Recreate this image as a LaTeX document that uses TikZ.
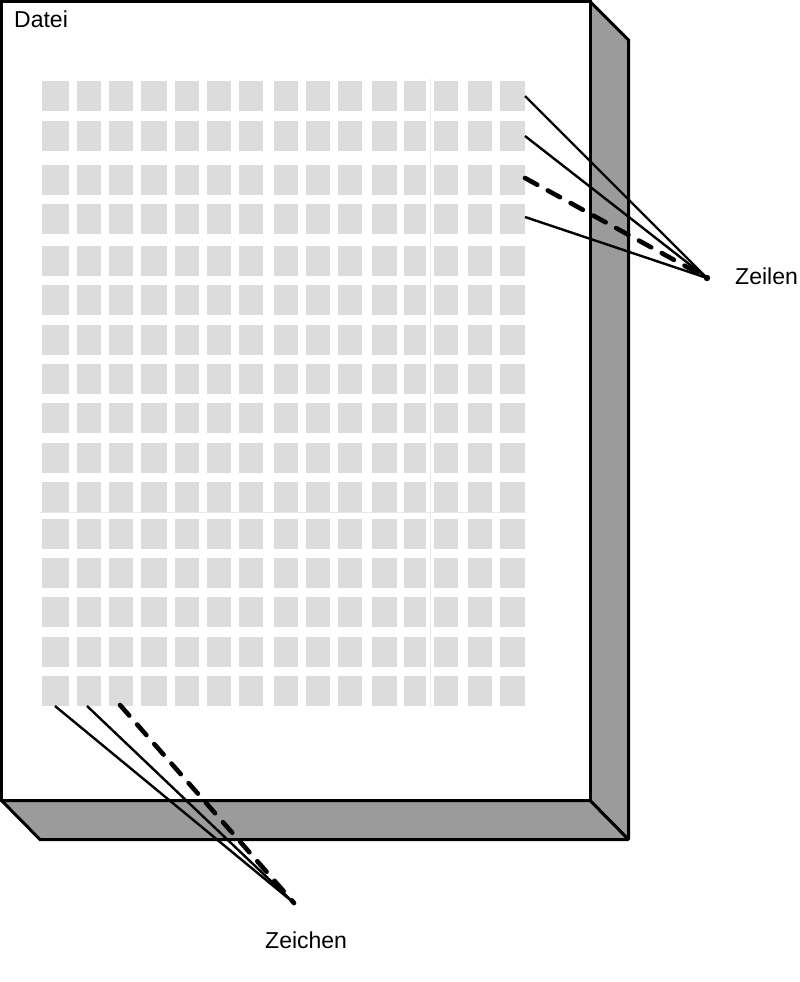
\documentclass[tikz,border=0pt]{standalone}
\usepackage{fontspec}
\setmainfont{Liberation Sans}
\definecolor{panelgray}{RGB}{155,155,155}
\definecolor{sqgray}{RGB}{220,220,220}
\definecolor{sepgray}{RGB}{232,232,232}
\tikzset{
  outline/.style={line width=3pt, line join=miter, miter limit=2},
  cell/.style={fill=sqgray, draw=none},
  sep/.style={draw=sepgray, line width=1pt},
  ray/.style={line width=2.4pt},
  dashray/.style={line width=4.6pt, line cap=round, dash pattern=on 14pt off 12pt},
  lbl/.style={font=\fontsize{23}{27}\selectfont, inner sep=0pt, anchor=base west}
}
\begin{document}
\begin{tikzpicture}[x=1pt,y=-1pt]
\useasboundingbox (0,0) rectangle (800,982);
% side panels
\draw[outline, fill=panelgray] (590,1.5) -- (628.5,40) -- (628.5,839.5) -- (590,800.5) -- cycle;
\draw[outline, fill=panelgray] (1.5,800.5) -- (590,800.5) -- (628.5,839.5) -- (40,839.5) -- cycle;
% front
\draw[outline, fill=white] (1.5,1.5) rectangle (590,800.5);
\node[lbl] (datei) at (14,28) {Datei};
% cells
\foreach \xa/\xb in {42/69, 77/101, 109/133, 141/167, 175/199, 207/231, 239/263, 274/298, 306/330, 338/362, 372/397, 404/426, 434/458, 468/492, 500/525}{
  \foreach \ya in {81,121,165,204,246,285,325,364,403,443,482,519,558,597,637,676}{
    \fill[cell] (\xa,\ya) rectangle (\xb,\ya+29.5);
  }
}
% faint separators
\draw[sep] (430,79) -- (430,707);
\draw[sep] (40,512.5) -- (526,512.5);
% Zeilen rays
\coordinate (zl1) at (525,96);
\coordinate (zl2) at (525,136);
\coordinate (zl3) at (525,178);
\coordinate (zl4) at (525,217);
\coordinate (zlend) at (707,278);
\draw[ray] (zl1) -- (zlend);
\draw[ray] (zl2) -- (zlend);
\draw[ray] (zl4) -- (zlend);
\draw[dashray] (zl3) -- (zlend);
\fill (zlend) circle (3.2pt);
\node[lbl] (zeilen) at (735,284) {Zeilen};
% Zeichen rays
\coordinate (zc1) at (55,706);
\coordinate (zc2) at (87,706);
\coordinate (zc3) at (120,705);
\coordinate (zcend) at (294,903);
\draw[ray] (zc1) -- (zcend);
\draw[ray] (zc2) -- (zcend);
\draw[dashray] (zc3) -- (zcend);
\node[lbl] (zeichen) at (265,948) {Zeichen};
\end{tikzpicture}
\end{document}
